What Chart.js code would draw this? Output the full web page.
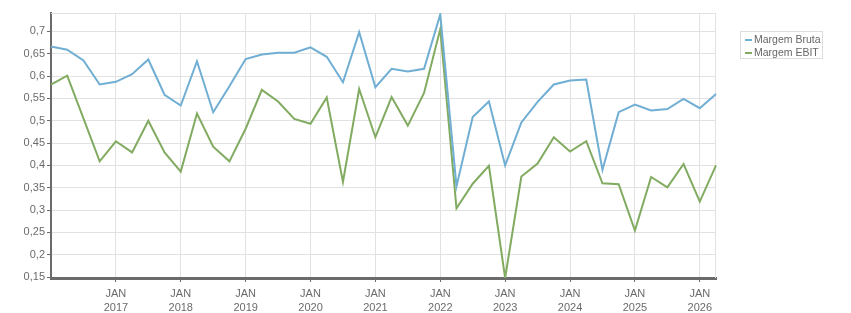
<!DOCTYPE html>
<html>
<head>
<meta charset="utf-8">
<script src="https://cdn.jsdelivr.net/npm/chart.js@4.4.1/dist/chart.umd.min.js"></script>
<style>
  body { margin: 0; background: #fff; font-family: "Liberation Sans", Arial, sans-serif; }
  .wrap { position: relative; width: 851px; height: 313px; }
  .legend { position: absolute; left: 740px; top: 31px; width: 83px; height: 28px;
    border: 1px solid #ddd; font-size: 10.5px; color: #666; line-height: 13px; padding-top: 1px; box-sizing: border-box; }
  .legend div { white-space: nowrap; padding-left: 4px; }
  .legend span { display: inline-block; width: 7px; height: 2px; margin-right: 2px; vertical-align: middle; }
</style>
</head>
<body>
<div class="wrap">
  <canvas id="myChart" width="851" height="313"></canvas>
  <div class="legend">
    <div><span style="background:#70aed3"></span>Margem Bruta</div>
    <div><span style="background:#82ab62"></span>Margem EBIT</div>
  </div>
</div>
<script>
var quarters = [
  "2016-01", "2016-04", "2016-07", "2016-10",
  "2017-01", "2017-04", "2017-07", "2017-10",
  "2018-01", "2018-04", "2018-07", "2018-10",
  "2019-01", "2019-04", "2019-07", "2019-10",
  "2020-01", "2020-04", "2020-07", "2020-10",
  "2021-01", "2021-04", "2021-07", "2021-10",
  "2022-01", "2022-04", "2022-07", "2022-10",
  "2023-01", "2023-04", "2023-07", "2023-10",
  "2024-01", "2024-04", "2024-07", "2024-10",
  "2025-01", "2025-04", "2025-07", "2025-10",
  "2026-01", "2026-04"
];

var margemBruta = [
  0.666, 0.659, 0.635, 0.581, 0.587, 0.604, 0.637, 0.558,
  0.534, 0.633, 0.519, 0.577, 0.638, 0.648, 0.652, 0.652,
  0.664, 0.643, 0.586, 0.698, 0.575, 0.616, 0.610, 0.616,
  0.738, 0.353, 0.508, 0.543, 0.400, 0.496, 0.542, 0.581,
  0.590, 0.592, 0.390, 0.519, 0.536, 0.523, 0.526, 0.549,
  0.528, 0.560
];

var margemEbit = [
  0.581, 0.601, 0.505, 0.409, 0.454, 0.429, 0.500, 0.429,
  0.386, 0.516, 0.442, 0.409, 0.482, 0.569, 0.543, 0.504,
  0.493, 0.552, 0.363, 0.571, 0.463, 0.553, 0.489, 0.562,
  0.705, 0.304, 0.359, 0.399, 0.148, 0.375, 0.404, 0.463,
  0.431, 0.454, 0.360, 0.358, 0.254, 0.374, 0.351, 0.403,
  0.319, 0.400
];

var yMin = 0.148;
var yMax = 0.741;
var yStep = 0.05;

// top and right edges of the plot
var edgePlugin = {
  id: "edges",
  beforeDatasetsDraw: function (chart) {
    var a = chart.chartArea;
    var ctx = chart.ctx;
    ctx.save();
    ctx.strokeStyle = "#e2e2e2";
    ctx.lineWidth = 1;
    ctx.beginPath();
    ctx.moveTo(a.left, a.top + 0.5);
    ctx.lineTo(a.right, a.top + 0.5);
    ctx.moveTo(a.right - 0.5, a.top);
    ctx.lineTo(a.right - 0.5, a.bottom);
    ctx.stroke();
    ctx.restore();
  }
};

const config = {
  type: "line",
  data: {
    labels: quarters,
    datasets: [
      {
        label: "Margem Bruta",
        data: margemBruta,
        borderColor: "#70aed3",
        borderWidth: 2,
        pointRadius: 0,
        tension: 0
      },
      {
        label: "Margem EBIT",
        data: margemEbit,
        borderColor: "#82ab62",
        borderWidth: 2,
        pointRadius: 0,
        tension: 0
      }
    ]
  },
  options: {
    responsive: false,
    animation: false,
    layout: { padding: { top: 13, right: 135, left: 0, bottom: 0 } },
    plugins: {
      legend: { display: false },
      tooltip: { enabled: false }
    },
    scales: {
      x: {
        type: "category",
        offset: false,
        afterFit: function (scale) { scale.height = 35; },
        border: { color: "#6b6b6b", width: 3 },
        grid: { color: "#e2e2e2", tickColor: "#6b6b6b", tickLength: 4 },
        ticks: {
          autoSkip: false,
          maxRotation: 0,
          padding: 5,
          color: "#6b6b6b",
          font: { family: "Liberation Sans", size: 11, lineHeight: 1.25 },
          callback: function (value, index) {
            var q = quarters[index];
            var parts = q.split("-");
            if (parts[1] === "01" && parts[0] !== "2016") {
              return ["JAN", parts[0]];
            }
            return null;
          }
        }
      },
      y: {
        min: yMin,
        max: yMax,
        afterFit: function (scale) { scale.width = 51; },
        border: { color: "#6b6b6b", width: 2 },
        grid: { color: "#e2e2e2", tickColor: "#6b6b6b", tickLength: 4 },
        ticks: {
          stepSize: yStep,
          includeBounds: false,
          padding: 2,
          color: "#6b6b6b",
          font: { family: "Liberation Sans", size: 11 },
          callback: function (v) {
            return String(Number(v.toFixed(2))).replace(".", ",");
          }
        }
      }
    }
  },
  plugins: [edgePlugin]
};

const myChart = new Chart(document.getElementById("myChart"), config);
</script>
</body>
</html>
